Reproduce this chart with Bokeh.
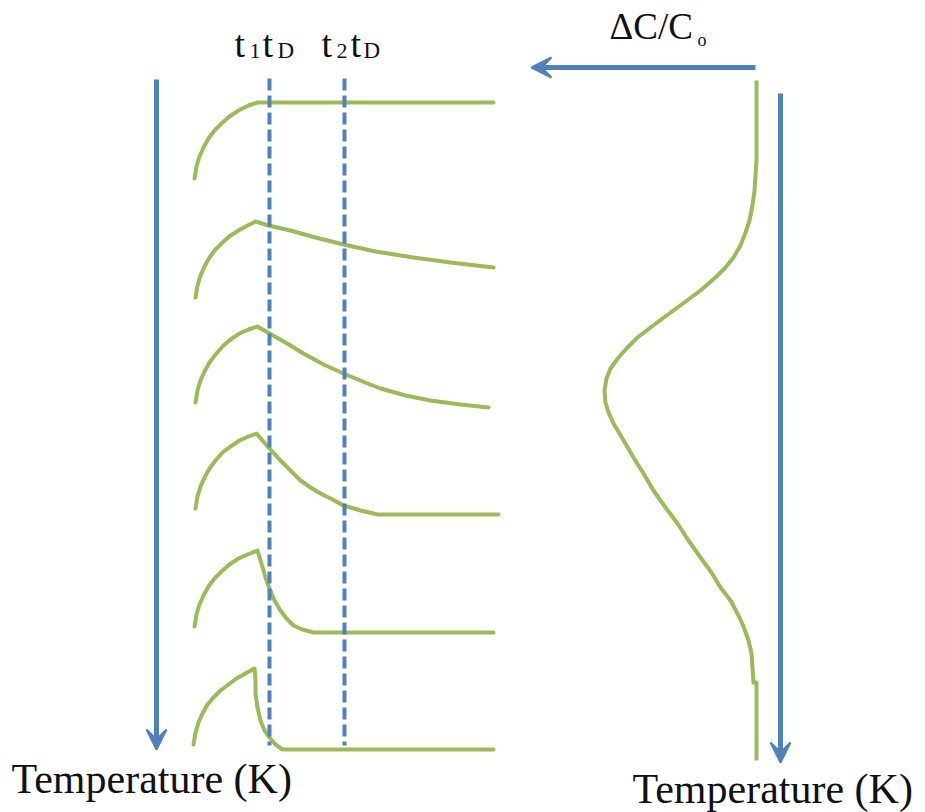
from bokeh.plotting import figure
from bokeh.models import Range1d, Arrow, VeeHead, ColumnDataSource
from bokeh.core.properties import value
from bokeh.embed import file_html
from bokeh.resources import INLINE

BLUE = "#4f81bd"
GREEN = "#9bbb59"
INK = "#111111"
SERIF = "'Liberation Serif', serif"

# Left panel: concentration transients for six temperatures (time → right, rows stacked downward)
row1_x = [194, 196, 199, 203, 208, 214, 221, 229, 238, 248, 257, 265, 344, 493]
row1_y = [178, 166, 156, 147, 138, 130, 123, 116, 110, 105, 102, 102, 102, 102]

row2_x = [195, 197, 200, 204, 209, 215, 222, 230, 238, 247, 255,
          268, 290, 315, 343, 375, 413, 450, 493]
row2_y = [297, 285, 275, 266, 257, 249, 242, 235, 230, 225, 221,
          225, 230, 237, 244, 251, 257, 262, 267]

row3_x = [195, 197, 200, 204, 209, 215, 222, 230, 239, 248, 257,
          269, 285, 303, 323, 343, 362, 380, 405, 430, 460, 488]
row3_y = [402, 390, 380, 371, 362, 354, 346, 339, 333, 329, 326,
          333, 342, 353, 364, 373, 381, 388, 395, 400, 404, 407]

row4_x = [195, 197, 200, 204, 209, 215, 222, 230, 239, 248, 256,
          262, 268, 280, 290, 300, 310, 320, 332, 343, 360, 377, 498]
row4_y = [508, 496, 486, 477, 468, 460, 452, 446, 440, 436, 433,
          440, 447, 460, 470, 480, 487, 493, 499, 505, 510, 514, 514]

row5_x = [194, 196, 199, 203, 208, 214, 221, 229, 238, 247, 257,
          260, 263, 266, 269, 274, 280, 286, 293, 302, 313, 493]
row5_y = [626, 614, 604, 595, 586, 578, 571, 564, 558, 554, 550,
          560, 570, 580, 588, 600, 610, 618, 625, 629, 632, 632]

row6_x = [193, 195, 198, 202, 207, 213, 220, 228, 236, 245, 254,
          255, 255, 257, 260, 264, 269, 275, 282, 493]
row6_y = [744, 732, 722, 713, 704, 697, 690, 684, 678, 673, 668,
          680, 693, 707, 720, 730, 737, 744, 749, 749]

rows = [(row1_x, row1_y), (row2_x, row2_y), (row3_x, row3_y),
        (row4_x, row4_y), (row5_x, row5_y), (row6_x, row6_y)]

# Right panel: ΔC/C0 response versus temperature
resp_x = [756, 756, 755, 754, 752, 749, 745, 740, 733, 725, 716, 700, 677, 650,
          637, 627, 618, 610, 606, 604, 605, 608, 613, 622, 633, 643, 653, 665,
          677, 688, 700, 711, 720, 730, 737, 743, 748, 751, 752, 753, 756, 756]
resp_y = [80, 160, 175, 190, 205, 220, 232, 245, 257, 267, 276, 290, 307, 327,
          337, 347, 357, 368, 378, 390, 402, 412, 423, 438, 457, 473, 490, 507,
          523, 540, 557, 572, 587, 600, 613, 626, 640, 653, 667, 682, 682, 760]

# Time markers t1·tD and t2·tD
marker_x = [269, 344]
marker_top = 78
marker_bottom = 745

# Temperature and ΔC/C0 axes drawn as arrows: (x_start, y_start, x_end, y_end)
temp_arrow_left = (156, 79, 156, 749)
temp_arrow_right = (780, 93, 780, 762)
dc_arrow = (755, 67, 531, 67)

# Label fragments: text, x, anchor y, size
label_text = ["t", "1", "t", "D", "t", "2", "t", "D",
              "ΔC/C", "o",
              "Temperature (K)", "Temperature (K)"]
label_x = [234, 249, 262, 277, 321, 336, 350, 363,
           609, 697,
           11, 632]
label_y = [43, 50, 43, 50, 43, 50, 43, 50,
           26, 39,
           778, 788]
label_size = ["38px", "22px", "38px", "23px", "38px", "22px", "38px", "23px",
              "37px", "18px",
              "42px", "42px"]

p = figure(width=925, height=812, output_backend="svg", toolbar_location=None,
           x_range=Range1d(0, 925), y_range=Range1d(812, 0),
           min_border=0, outline_line_color=None, background_fill_color="white",
           border_fill_color="white")
p.axis.visible = False
p.grid.visible = False

for xs, ys in rows:
    p.line(xs, ys, line_color=GREEN, line_width=4, line_join="round", line_cap="round")

p.line(resp_x, resp_y, line_color=GREEN, line_width=4, line_join="round")

for mx in marker_x:
    p.line([mx, mx], [marker_top, marker_bottom], line_color=BLUE, line_width=4,
           line_dash="12 5")

for (x0, y0, x1, y1) in (temp_arrow_left, temp_arrow_right, dc_arrow):
    p.add_layout(Arrow(x_start=x0, y_start=y0, x_end=x1, y_end=y1,
                       line_color=BLUE, line_width=5,
                       end=VeeHead(size=20, line_color=BLUE, fill_color=BLUE, line_width=2)))

src = ColumnDataSource(dict(text=label_text, x=label_x, y=label_y, size=label_size))
p.text(x="x", y="y", text="text", source=src, text_font=value(SERIF),
       text_font_size="size", text_color=INK, text_baseline="alphabetic",
       text_align="left")

open("out.html", "w").write(file_html(p, INLINE))
